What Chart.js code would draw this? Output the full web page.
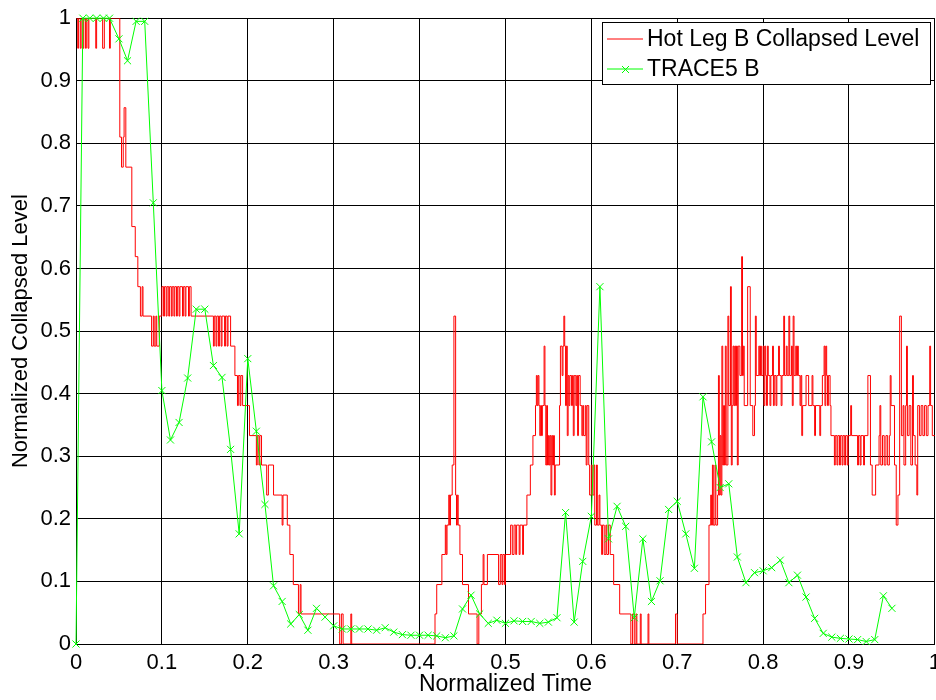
<!DOCTYPE html>
<html>
<head>
<meta charset="utf-8">
<script src="https://cdn.jsdelivr.net/npm/chart.js@4.4.0/dist/chart.umd.min.js"></script>
<style>
  html, body { margin: 0; padding: 0; background: #fff; overflow: hidden; }
  canvas { display: block; }
</style>
</head>
<body>
<!-- a little wider than the window so the last x label gets cut like in the original -->
<canvas id="chart" width="947" height="700"></canvas>
<script>
// axis ticks
const xTicks = [0, 0.1, 0.2, 0.3, 0.4, 0.5, 0.6, 0.7, 0.8, 0.9, 1];
const xTickLabels = ['0', '0.1', '0.2', '0.3', '0.4', '0.5', '0.6', '0.7', '0.8', '0.9', '1'];
const yTicks = [0, 0.1, 0.2, 0.3, 0.4, 0.5, 0.6, 0.7, 0.8, 0.9, 1];
const yTickLabels = ['0', '0.1', '0.2', '0.3', '0.4', '0.5', '0.6', '0.7', '0.8', '0.9', '1'];

const seriesNames = ['Hot Leg B Collapsed Level', 'TRACE5 B'];

// measured hot leg level, [time, level] (held until next point)
const hotLegLevel = [
  [0, 1], [0.002, 0.952], [0.003, 1], [0.005, 0.952], [0.006, 1], [0.008, 0.952], [0.009, 1], [0.011, 0.952],
  [0.012, 1], [0.014, 0.952], [0.015, 1], [0.023, 0.952], [0.024, 1], [0.031, 0.952], [0.033, 1], [0.039, 0.952],
  [0.040, 1], [0.051, 0.81], [0.053, 0.762], [0.055, 0.81], [0.056, 0.857], [0.058, 0.762], [0.065, 0.667],
  [0.069, 0.619], [0.072, 0.571], [0.075, 0.524], [0.077, 0.571], [0.078, 0.524], [0.088, 0.476], [0.090, 0.524],
  [0.091, 0.476], [0.093, 0.524], [0.094, 0.476], [0.097, 0.524],
  [0.100, 0.571], [0.102, 0.524], [0.103, 0.571], [0.105, 0.524], [0.106, 0.571], [0.108, 0.524], [0.109, 0.571],
  [0.111, 0.524], [0.112, 0.571], [0.114, 0.524], [0.115, 0.571], [0.117, 0.524], [0.118, 0.571], [0.120, 0.524],
  [0.121, 0.571], [0.124, 0.524], [0.125, 0.571], [0.127, 0.524], [0.128, 0.571], [0.131, 0.524], [0.132, 0.571],
  [0.134, 0.524],
  [0.160, 0.476], [0.161, 0.524], [0.163, 0.476], [0.164, 0.524], [0.166, 0.476], [0.167, 0.524], [0.169, 0.476],
  [0.170, 0.524], [0.173, 0.476], [0.174, 0.524], [0.176, 0.476], [0.177, 0.524], [0.180, 0.476],
  [0.185, 0.429], [0.188, 0.381], [0.189, 0.429], [0.191, 0.381], [0.192, 0.429], [0.194, 0.381], [0.202, 0.333],
  [0.210, 0.286], [0.211, 0.333], [0.213, 0.286], [0.214, 0.333], [0.216, 0.286], [0.222, 0.238], [0.224, 0.286],
  [0.230, 0.238], [0.240, 0.19], [0.241, 0.238], [0.246, 0.19], [0.249, 0.143], [0.253, 0.095], [0.259, 0.048],
  [0.261, 0.095], [0.262, 0.048],
  [0.307, 0], [0.309, 0.048], [0.311, 0], [0.320, 0.048], [0.321, 0],
  [0.418, 0.048], [0.420, 0.095], [0.426, 0.143], [0.430, 0.19], [0.431, 0.143], [0.432, 0.19], [0.434, 0.238],
  [0.435, 0.19], [0.436, 0.238], [0.438, 0.286], [0.440, 0.524], [0.442, 0.238], [0.443, 0.19], [0.444, 0.238],
  [0.445, 0.19], [0.447, 0.143], [0.450, 0.095], [0.457, 0.048], [0.467, 0], [0.469, 0.048], [0.472, 0.095],
  [0.474, 0.143], [0.475, 0.095], [0.479, 0.143], [0.492, 0.095], [0.494, 0.143], [0.496, 0.095], [0.497, 0.143],
  [0.499, 0.095], [0.500, 0.143], [0.506, 0.19], [0.508, 0.143], [0.510, 0.19], [0.512, 0.143], [0.513, 0.19],
  [0.516, 0.143], [0.517, 0.19], [0.520, 0.143], [0.521, 0.19], [0.525, 0.238], [0.529, 0.286], [0.532, 0.333],
  [0.535, 0.381], [0.536, 0.429], [0.537, 0.381], [0.538, 0.429], [0.539, 0.381], [0.540, 0.333], [0.541, 0.381],
  [0.542, 0.333], [0.543, 0.381], [0.545, 0.476], [0.546, 0.381], [0.547, 0.286], [0.548, 0.381], [0.549, 0.286],
  [0.550, 0.333], [0.551, 0.286], [0.552, 0.333], [0.553, 0.238], [0.554, 0.333], [0.555, 0.286], [0.556, 0.333],
  [0.557, 0.238], [0.558, 0.286], [0.563, 0.381], [0.564, 0.476], [0.566, 0.429], [0.567, 0.476], [0.568, 0.524],
  [0.569, 0.476], [0.570, 0.381], [0.571, 0.476], [0.572, 0.333], [0.573, 0.429], [0.574, 0.381], [0.575, 0.429],
  [0.577, 0.381], [0.578, 0.429], [0.579, 0.333], [0.580, 0.429], [0.582, 0.381], [0.583, 0.429], [0.584, 0.333],
  [0.585, 0.429], [0.587, 0.381], [0.589, 0.333], [0.590, 0.381], [0.591, 0.333], [0.593, 0.381], [0.594, 0.286],
  [0.595, 0.381], [0.597, 0.286], [0.598, 0.238], [0.600, 0.286], [0.601, 0.238], [0.603, 0.286], [0.604, 0.19],
  [0.606, 0.286], [0.607, 0.19], [0.609, 0.238], [0.610, 0.19], [0.612, 0.143], [0.613, 0.19], [0.615, 0.143],
  [0.617, 0.19], [0.618, 0.143], [0.620, 0.19], [0.622, 0.143], [0.626, 0.095], [0.633, 0.048], [0.646, 0],
  [0.648, 0.048], [0.650, 0], [0.652, 0.048], [0.653, 0], [0.657, 0.048], [0.658, 0], [0.666, 0.048], [0.667, 0],
  [0.698, 0.048], [0.700, 0],
  [0.730, 0.048], [0.733, 0.095], [0.737, 0.19], [0.739, 0.238], [0.740, 0.19], [0.741, 0.286], [0.742, 0.19],
  [0.744, 0.286], [0.745, 0.19], [0.747, 0.238], [0.748, 0.429], [0.749, 0.238], [0.750, 0.333], [0.751, 0.238],
  [0.752, 0.476], [0.753, 0.286], [0.754, 0.381], [0.755, 0.286], [0.756, 0.476], [0.757, 0.286], [0.759, 0.524],
  [0.760, 0.381], [0.762, 0.571], [0.763, 0.286], [0.764, 0.381], [0.765, 0.476], [0.766, 0.381], [0.767, 0.476],
  [0.768, 0.381], [0.769, 0.476], [0.770, 0.286], [0.771, 0.476], [0.773, 0.429], [0.775, 0.619], [0.776, 0.429],
  [0.777, 0.476], [0.778, 0.381], [0.782, 0.571], [0.785, 0.381], [0.788, 0.333], [0.790, 0.381], [0.791, 0.524],
  [0.792, 0.429], [0.795, 0.476], [0.796, 0.429], [0.797, 0.476], [0.798, 0.429], [0.800, 0.476], [0.801, 0.381],
  [0.802, 0.476], [0.803, 0.429], [0.804, 0.381], [0.805, 0.476], [0.806, 0.429], [0.808, 0.381], [0.809, 0.429],
  [0.811, 0.476], [0.812, 0.381], [0.813, 0.429], [0.815, 0.381], [0.816, 0.429], [0.818, 0.476], [0.819, 0.429],
  [0.821, 0.381], [0.822, 0.429], [0.824, 0.524], [0.825, 0.429], [0.827, 0.476], [0.828, 0.429], [0.830, 0.524],
  [0.831, 0.429], [0.833, 0.476], [0.834, 0.381], [0.835, 0.524], [0.836, 0.429], [0.838, 0.476], [0.839, 0.429],
  [0.840, 0.476], [0.841, 0.429], [0.843, 0.381], [0.844, 0.429], [0.845, 0.333], [0.846, 0.381], [0.850, 0.429],
  [0.853, 0.381], [0.857, 0.429], [0.858, 0.381], [0.860, 0.333], [0.861, 0.381], [0.866, 0.333], [0.867, 0.381],
  [0.869, 0.429], [0.871, 0.476], [0.872, 0.381], [0.873, 0.476], [0.874, 0.429], [0.875, 0.381], [0.876, 0.429],
  [0.878, 0.381], [0.879, 0.333], [0.883, 0.286], [0.884, 0.333], [0.886, 0.286], [0.887, 0.333], [0.889, 0.286],
  [0.890, 0.333], [0.892, 0.286], [0.893, 0.333], [0.895, 0.286], [0.896, 0.333], [0.898, 0.286], [0.899, 0.333],
  [0.902, 0.381], [0.903, 0.333], [0.910, 0.286], [0.911, 0.333], [0.913, 0.286], [0.914, 0.333], [0.917, 0.286],
  [0.918, 0.333], [0.922, 0.429], [0.925, 0.286], [0.927, 0.238], [0.931, 0.286], [0.935, 0.333], [0.936, 0.381],
  [0.937, 0.286], [0.939, 0.333], [0.941, 0.286], [0.943, 0.333], [0.945, 0.286], [0.947, 0.333], [0.948, 0.429],
  [0.949, 0.381], [0.953, 0.286], [0.955, 0.19], [0.957, 0.238], [0.959, 0.524], [0.961, 0.333], [0.963, 0.381],
  [0.964, 0.286], [0.966, 0.381], [0.967, 0.476], [0.968, 0.333], [0.970, 0.381], [0.972, 0.286], [0.974, 0.429],
  [0.975, 0.333], [0.977, 0.286], [0.979, 0.238], [0.980, 0.381], [0.982, 0.333], [0.984, 0.381], [0.986, 0.333],
  [0.988, 0.381], [0.990, 0.333], [0.992, 0.381], [0.994, 0.476], [0.995, 0.381], [0.997, 0.333], [1.0, 0.333]
];

// TRACE5 result
const traceTime = [
  0, 0.008, 0.016, 0.024, 0.032, 0.039, 0.05, 0.06, 0.07, 0.08,
  0.09, 0.10, 0.11, 0.12, 0.13, 0.14, 0.15, 0.16, 0.17, 0.18,
  0.19, 0.20, 0.21, 0.22, 0.23, 0.24, 0.25, 0.26, 0.27, 0.28,
  0.29, 0.30, 0.31, 0.32, 0.33, 0.34, 0.35, 0.36, 0.37, 0.38,
  0.39, 0.40, 0.41, 0.42, 0.43, 0.44, 0.45, 0.46, 0.47, 0.48,
  0.49, 0.50, 0.51, 0.52, 0.53, 0.54, 0.55, 0.56, 0.57, 0.58,
  0.59, 0.60, 0.61, 0.62, 0.63, 0.64, 0.65, 0.66, 0.67, 0.68,
  0.69, 0.70, 0.71, 0.72, 0.73, 0.74, 0.75, 0.76, 0.77, 0.78,
  0.79, 0.80, 0.81, 0.82, 0.83, 0.84, 0.85, 0.86, 0.87, 0.88,
  0.89, 0.90, 0.91, 0.92, 0.93, 0.94, 0.95
];
const traceLevel = [
  0, 1, 1, 1, 1, 1, 0.967, 0.932, 0.995, 0.995,
  0.705, 0.405, 0.326, 0.354, 0.425, 0.535, 0.535, 0.445, 0.426, 0.311,
  0.176, 0.456, 0.340, 0.223, 0.093, 0.068, 0.032, 0.047, 0.022, 0.057,
  0.043, 0.029, 0.024, 0.024, 0.024, 0.024, 0.022, 0.026, 0.019, 0.015,
  0.014, 0.014, 0.014, 0.013, 0.010, 0.013, 0.056, 0.078, 0.048, 0.033,
  0.038, 0.033, 0.037, 0.036, 0.036, 0.033, 0.035, 0.042, 0.210, 0.035,
  0.132, 0.204, 0.571, 0.168, 0.220, 0.188, 0.042, 0.168, 0.068, 0.101,
  0.215, 0.228, 0.176, 0.121, 0.395, 0.323, 0.250, 0.256, 0.139, 0.098,
  0.114, 0.117, 0.122, 0.134, 0.098, 0.110, 0.075, 0.041, 0.017, 0.011,
  0.009, 0.008, 0.007, 0.004, 0.007, 0.077, 0.057
];

const FONT = "'Liberation Sans', Arial, Helvetica, sans-serif";

// legend box in the top right corner, drawn like the matlab one
const legendBox = {
  id: 'legendBox',
  afterDraw(chart) {
    const ctx = chart.ctx;
    const left = 602, top = 22, w = 328, h = 62;
    ctx.save();
    ctx.fillStyle = '#fff';
    ctx.fillRect(left, top, w, h);
    ctx.strokeStyle = '#000';
    ctx.lineWidth = 1;
    ctx.strokeRect(left + 0.5, top + 0.5, w, h);
    ctx.font = '23px ' + FONT;
    ctx.textBaseline = 'middle';
    ctx.fillStyle = '#000';
    chart.data.datasets.forEach((ds, i) => {
      const y = top + 17 + i * 30;
      ctx.strokeStyle = ds.borderColor;
      ctx.beginPath();
      ctx.moveTo(607, y);
      ctx.lineTo(643, y);
      ctx.stroke();
      if (ds.pointStyle === 'crossRot') {
        ctx.beginPath();
        ctx.moveTo(622, y - 3); ctx.lineTo(629, y + 4);
        ctx.moveTo(622, y + 4); ctx.lineTo(629, y - 3);
        ctx.stroke();
      }
      ctx.fillText(ds.label, 647, y + 1);
    });
    ctx.restore();
  }
};

const tickFont = { family: FONT, size: 22 };

new Chart(document.getElementById('chart'), {
  type: 'line',
  data: {
    datasets: [
      {
        label: seriesNames[0],
        data: hotLegLevel.map(([x, y]) => ({ x, y })),
        borderColor: '#ff0000',
        borderWidth: 1,
        pointRadius: 0,
        stepped: true,
        order: 1
      },
      {
        label: seriesNames[1],
        data: traceTime.map((x, i) => ({ x, y: traceLevel[i] })),
        borderColor: '#00ff00',
        borderWidth: 1,
        pointStyle: 'crossRot',
        pointRadius: 5,
        pointBorderColor: '#00ff00',
        pointBackgroundColor: '#00ff00',
        pointBorderWidth: 1,
        clip: false,
        order: 0
      }
    ]
  },
  options: {
    responsive: false,
    animation: false,
    devicePixelRatio: 1,
    layout: { padding: { top: 16, right: 0, left: 0, bottom: 0 } },
    plugins: { legend: { display: false }, tooltip: { enabled: false } },
    scales: {
      x: {
        type: 'linear',
        min: 0,
        max: 1,
        afterBuildTicks: s => { s.ticks = xTicks.map(v => ({ value: v })); },
        afterFit: s => { s.height = 56; },
        ticks: {
          callback: (v, i) => xTickLabels[i],
          maxRotation: 0,
          autoSkip: false,
          color: '#000',
          font: tickFont,
          padding: 6
        },
        grid: { color: '#000', lineWidth: 1, drawTicks: false },
        border: { color: '#000', width: 1 },
        title: {
          display: true,
          text: 'Normalized Time',
          color: '#000',
          font: { family: FONT, size: 23 },
          padding: { top: 0, bottom: 2 }
        }
      },
      y: {
        type: 'linear',
        min: 0,
        max: 1,
        afterBuildTicks: s => { s.ticks = yTicks.map(v => ({ value: v })); },
        afterFit: s => { s.width = 76; },
        ticks: {
          callback: (v, i) => yTickLabels[i],
          autoSkip: false,
          color: '#000',
          font: tickFont,
          padding: 5
        },
        grid: { color: '#000', lineWidth: 1, drawTicks: false },
        border: { color: '#000', width: 1 },
        title: {
          display: true,
          text: 'Normalized Collapsed Level',
          color: '#000',
          font: tickFont,
          padding: { top: 8, bottom: 0 }
        }
      }
    }
  },
  plugins: [legendBox]
});
</script>
</body>
</html>
